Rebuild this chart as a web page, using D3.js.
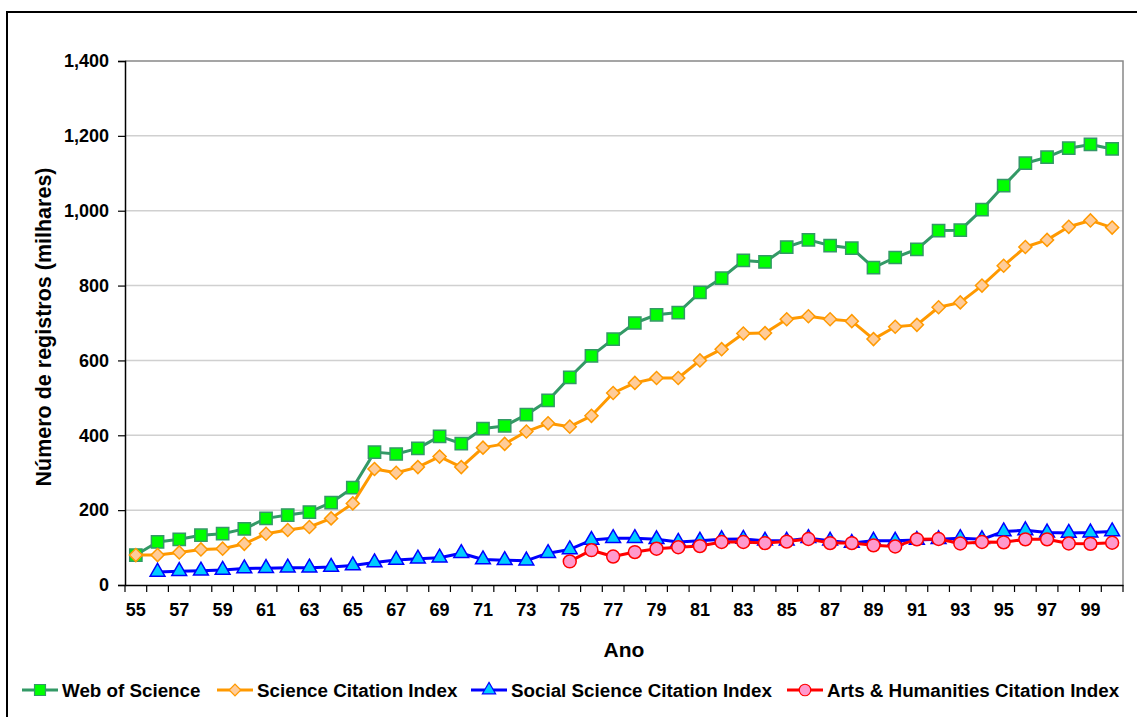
<!DOCTYPE html>
<html>
<head>
<meta charset="utf-8">
<script src="https://cdn.jsdelivr.net/npm/d3@7"></script>
<style>
  body { margin: 0; background: #fff; }
  text { font-family: "Liberation Sans", Arial, sans-serif; font-weight: bold; }
</style>
</head>
<body>
<script>
var svgWidth = 1137;
var svgHeight = 717;

// years 55 .. 100
var years = d3.range(55, 101);
var tickLabels = ["55","57","59","61","63","65","67","69","71","73","75","77","79","81","83","85","87","89","91","93","95","97","99"];
var yTicks = [0, 200, 400, 600, 800, 1000, 1200, 1400];

var webOfScience = [80,115,122,133,137,150,178,187,195,220,260,355,350,365,397,378,418,425,455,493,
  555,612,657,700,722,728,782,820,867,863,903,922,907,900,848,875,897,947,948,1003,1067,1127,1143,1167,1177,1165];
var scienceCI = [80,80,87,95,97,110,137,147,155,178,218,310,300,315,343,315,367,377,410,432,
  423,452,513,540,553,553,600,630,672,673,710,718,710,705,657,690,695,742,755,800,853,903,922,957,974,955];
// starts in 56
var socialSCI = [null,35,37,38,40,44,45,46,46,48,52,60,67,70,73,85,68,66,65,85,
  95,120,125,125,122,115,118,122,123,118,118,125,118,112,118,118,120,122,125,122,143,146,140,139,140,143];
// starts in 75
var artsHCI = [null,null,null,null,null,null,null,null,null,null,null,null,null,null,null,null,null,null,null,null,
  63,93,76,88,97,101,104,115,115,112,116,123,112,112,106,103,122,123,111,115,114,122,122,111,110,113];

var seriesNames = ["Web of Science", "Science Citation Index", "Social Science Citation Index", "Arts & Humanities Citation Index"];
var seriesValues = [webOfScience, scienceCI, socialSCI, artsHCI];
var seriesStyle = [
  {line: "#339966", fill: "#00ff00", stroke: "#339966", shape: d3.symbolSquare, size: 150, rot: 0},
  {line: "#ff9900", fill: "#ffcc99", stroke: "#ff9900", shape: d3.symbolSquare, size: 85, rot: 45},
  {line: "#0000ff", fill: "#00ccff", stroke: "#0000ff", shape: d3.symbolTriangle, size: 95, rot: 0},
  {line: "#ff0000", fill: "#ff99cc", stroke: "#ff0000", shape: d3.symbolCircle, size: 130, rot: 0}
];

var margin = {top: 61, left: 125, right: 14, bottom: 132};
var plotW = svgWidth - margin.left - margin.right;
var plotH = svgHeight - margin.top - margin.bottom;

var svg = d3.select("body").append("svg")
  .attr("width", svgWidth)
  .attr("height", svgHeight);

// outer border
svg.append("rect")
  .attr("x", 7).attr("y", 12)
  .attr("width", svgWidth + 20).attr("height", svgHeight + 20)
  .attr("fill", "none").attr("stroke", "#000").attr("stroke-width", 2);

var chartGroup = svg.append("g")
  .attr("transform", `translate(${margin.left}, ${margin.top})`);

var xScale = d3.scaleBand().domain(years).range([0, plotW]);
var yScale = d3.scaleLinear().domain([0, 1400]).range([plotH, 0]);

// gridlines
chartGroup.append("g")
  .selectAll("line")
  .data(yTicks.slice(1, -1))
  .enter().append("line")
  .attr("x1", 0).attr("x2", plotW)
  .attr("y1", d => yScale(d)).attr("y2", d => yScale(d))
  .attr("stroke", "#d0d0d0").attr("stroke-width", 1.5);

// plot area top and right edges
chartGroup.append("path")
  .attr("d", `M0,${yScale(1400)}H${plotW}V${plotH}`)
  .attr("fill", "none").attr("stroke", "#888").attr("stroke-width", 1.5);

// y axis
var yAxis = chartGroup.append("g")
  .call(d3.axisLeft(yScale).tickValues(yTicks).tickSize(7).tickFormat(d3.format(",")));
yAxis.select(".domain").attr("stroke", "#000").attr("stroke-width", 1.5);
yAxis.selectAll(".tick line").attr("stroke", "#000").attr("stroke-width", 1.2);
yAxis.selectAll(".tick text").attr("font-size", 18).attr("x", -16).attr("fill", "#000");

// x axis
var xAxis = chartGroup.append("g")
  .attr("transform", `translate(0,${plotH})`)
  .call(d3.axisBottom(xScale).tickSize(0)
    .tickFormat(d => tickLabels.indexOf(String(d)) >= 0 ? d : ""));
xAxis.select(".domain").attr("stroke", "#000").attr("stroke-width", 1.5);
xAxis.selectAll(".tick text").attr("font-size", 18).attr("dy", "1.55em").attr("fill", "#000");

// x tick marks between categories
xAxis.append("g").selectAll("line")
  .data(years.concat([null]))
  .enter().append("line")
  .attr("x1", d => d === null ? plotW : xScale(d))
  .attr("x2", d => d === null ? plotW : xScale(d))
  .attr("y1", 0).attr("y2", 7)
  .attr("stroke", "#000").attr("stroke-width", 1.2);

// axis titles
svg.append("text")
  .attr("transform", "translate(51, 327) rotate(-90)")
  .attr("text-anchor", "middle")
  .attr("font-size", 21.5)
  .text("Número de registros (milhares)");

svg.append("text")
  .attr("x", margin.left + plotW / 2).attr("y", 657)
  .attr("text-anchor", "middle")
  .attr("font-size", 21)
  .text("Ano");

var cx = d => xScale(d) + xScale.bandwidth() / 2;

// series
seriesValues.forEach((vals, i) => {
  var st = seriesStyle[i];
  var pts = years.map((y, j) => ({year: y, value: vals[j]})).filter(p => p.value !== null);

  var line = d3.line()
    .x(p => cx(p.year))
    .y(p => yScale(p.value));

  chartGroup.append("path")
    .datum(pts)
    .attr("d", line)
    .attr("fill", "none")
    .attr("stroke", st.line)
    .attr("stroke-width", 3)
    .attr("stroke-linejoin", "round");

  chartGroup.append("g")
    .selectAll("path")
    .data(pts)
    .enter().append("path")
    .attr("d", d3.symbol().type(st.shape).size(st.size))
    .attr("transform", p => `translate(${cx(p.year)},${yScale(p.value)}) rotate(${st.rot})`)
    .attr("fill", st.fill)
    .attr("stroke", st.stroke)
    .attr("stroke-width", 1.5);
});

// legend
var legendX = [22, 217, 471, 787];
var legend = svg.append("g").attr("transform", "translate(0, 690)");
seriesNames.forEach((name, i) => {
  var st = seriesStyle[i];
  var g = legend.append("g").attr("transform", `translate(${legendX[i]}, 0)`);
  g.append("line")
    .attr("x1", 0).attr("x2", 36).attr("y1", 0).attr("y2", 0)
    .attr("stroke", st.line).attr("stroke-width", 3);
  g.append("path")
    .attr("d", d3.symbol().type(st.shape).size(st.size * 0.8))
    .attr("transform", `translate(18,0) rotate(${st.rot})`)
    .attr("fill", st.fill).attr("stroke", st.stroke).attr("stroke-width", 1.2);
  g.append("text")
    .attr("x", 40).attr("y", 0).attr("dy", "0.36em")
    .attr("font-size", 18.8)
    .text(name);
});
</script>
</body>
</html>
